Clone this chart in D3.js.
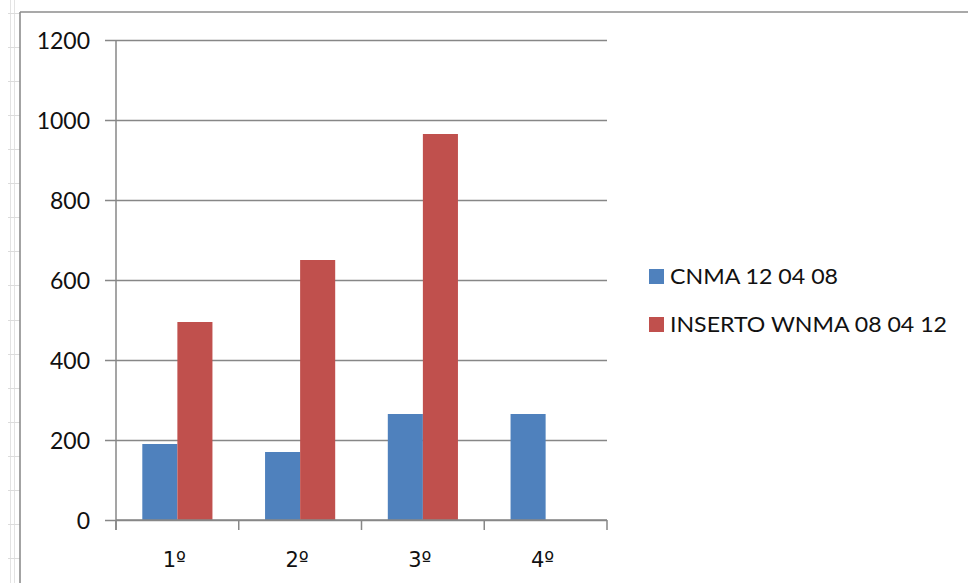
<!DOCTYPE html>
<html><head><meta charset="utf-8">
<script src="https://cdn.jsdelivr.net/npm/d3@7"></script>
<style>body{margin:0;background:#fff;}svg{display:block;font-family:Lato,"Open Sans",sans-serif;}</style>
</head><body><svg id="c" width="968" height="583"></svg>
<script>
const categories = ["1º","2º","3º","4º"];
const seriesNames = ["CNMA 12 04 08","INSERTO WNMA 08 04 12"];
const cnma = [190, 170, 265, 265];
const inserto = [495, 650, 965, null];
const yTicks = [0,200,400,600,800,1000,1200];
const colors = ["#4f81bd","#c0504d"];

(function(){
const svg = d3.select("#c");
const W = 968, H = 583;
const bg = svg.append("g");
bg.append("line").attr("x1",10.5).attr("x2",10.5).attr("y1",0).attr("y2",H).attr("stroke","#e3e3e3");
bg.append("line").attr("x1",14.5).attr("x2",14.5).attr("y1",0).attr("y2",H).attr("stroke","#e3e3e3");
for(let yy=12.6; yy<H; yy+=34.1){
  bg.append("line").attr("x1",8).attr("x2",20).attr("y1",Math.round(yy)+0.5).attr("y2",Math.round(yy)+0.5).attr("stroke","#dcdcdc");
}
svg.append("line").attr("x1",20).attr("x2",W).attr("y1",12).attr("y2",12).attr("stroke","#8c8c8c").attr("stroke-width",1.6);
svg.append("line").attr("x1",20).attr("x2",20).attr("y1",12).attr("y2",H).attr("stroke","#8c8c8c").attr("stroke-width",1.6);

const pL = 116, pR = 607, pT = 40, pB = 520;
const x = d3.scaleBand().domain(categories).range([pL,pR]).padding(0);
const bw = x.bandwidth();
const xs = d3.scaleBand().domain(seriesNames).range([bw*0.75/3.5, bw - bw*0.75/3.5]).padding(0);
const y = d3.scaleLinear().domain([0,1200]).range([pB,pT]);

const grid = "#878787";
const yAxis = d3.axisLeft(y).tickValues(yTicks).tickFormat(d3.format("d")).tickSize(-(pR-pL)).tickSizeOuter(0);
const gy = svg.append("g").attr("transform",`translate(${pL},0)`).call(yAxis);
gy.select(".domain").remove();
gy.selectAll(".tick line").attr("stroke",grid).attr("stroke-width",1.5).attr("x1",-11);
gy.selectAll(".tick text").attr("font-size",23).attr("fill","#111").attr("font-family","Lato,sans-serif").attr("dy","0.36em").attr("x",-26);

const data = [cnma, inserto];
data.forEach((arr,si)=>{
  svg.append("g").selectAll("rect").data(categories.map((c,i)=>({c,v:arr[i]})).filter(d=>d.v!=null))
    .join("rect")
    .attr("x",d=>x(d.c)+xs(seriesNames[si]))
    .attr("width",xs.bandwidth())
    .attr("y",d=>y(d.v))
    .attr("height",d=>y(0)-y(d.v))
    .attr("fill",colors[si]);
});

svg.append("line").attr("x1",pL).attr("x2",pL).attr("y1",pT).attr("y2",pB+10).attr("stroke",grid).attr("stroke-width",1.5);
const xAxis = d3.axisBottom(x).tickSize(0).tickSizeOuter(0).tickPadding(0);
const gx = svg.append("g").attr("transform",`translate(0,${pB})`).call(xAxis);
gx.select(".domain").remove();
gx.selectAll(".tick text").attr("font-size",21).attr("fill","#111").attr("font-family","'DejaVu Sans',sans-serif").attr("y",47).attr("dy",0).attr("dx",-3);
svg.append("line").attr("x1",pL).attr("x2",pR).attr("y1",pB).attr("y2",pB).attr("stroke",grid).attr("stroke-width",1.5);
const bounds = categories.map(c=>x(c)).concat([pR]);
svg.append("g").selectAll("line").data(bounds).join("line")
  .attr("x1",d=>d).attr("x2",d=>d).attr("y1",pB).attr("y2",pB+10).attr("stroke",grid).attr("stroke-width",1.5);

const lg = svg.append("g");
const legY = [269, 317];
const legW = [168, 277];
seriesNames.forEach((n,i)=>{
  lg.append("rect").attr("x",649).attr("y",legY[i]).attr("width",15).attr("height",15).attr("fill",colors[i]);
  lg.append("text").attr("x",670).attr("y",legY[i]+15).attr("font-size",21).attr("fill","#111")
    .attr("textLength",legW[i]).attr("lengthAdjust","spacingAndGlyphs").text(n);
});
})();
</script></body></html>
